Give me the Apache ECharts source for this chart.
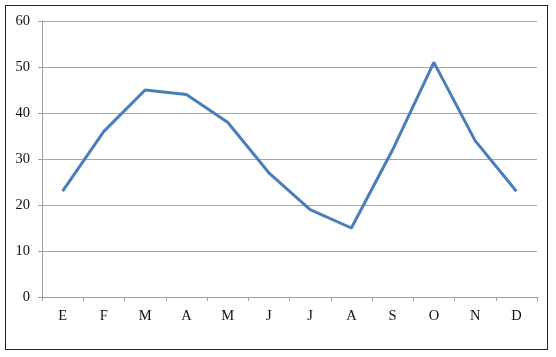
<!DOCTYPE html>
<html><head><meta charset="utf-8">
<script src="https://cdn.jsdelivr.net/npm/echarts@6/dist/echarts.min.js"></script>
<style>
html,body{margin:0;padding:0;background:#fff;}
#frame{position:absolute;left:5px;top:5px;width:541px;height:343px;border:1.5px solid #222;}
#c{position:absolute;left:0;top:0;width:556px;height:357px;}
</style></head>
<body>
<div id="frame"></div>
<div id="c"></div>
<script>
const categories = ['E','F','M','A','M','J','J','A','S','O','N','D'];
const values = [23, 36, 45, 44, 38, 27, 19, 15, 32, 51, 34, 23];
const yTicks = [0, 10, 20, 30, 40, 50, 60];

const chart = echarts.init(document.getElementById('c'));
chart.setOption({
  animation: false,
  grid: {left: 42, right: 19, top: 21, bottom: 60, containLabel: false},
  xAxis: {
    type: 'category',
    data: categories,
    boundaryGap: true,
    axisLine: {lineStyle: {color: '#a0a0a0', width: 1}},
    axisTick: {show: true, alignWithLabel: false, length: 4, lineStyle: {color: '#a0a0a0'}},
    axisLabel: {color: '#111', fontFamily: 'Liberation Serif', fontSize: 14.5, margin: 12},
    splitLine: {show: false}
  },
  yAxis: {
    type: 'value',
    min: yTicks[0], max: yTicks[yTicks.length - 1], interval: 10,
    axisLine: {show: true, lineStyle: {color: '#a0a0a0', width: 1}},
    axisTick: {show: true, length: 4, lineStyle: {color: '#a0a0a0'}},
    axisLabel: {color: '#111', fontFamily: 'Liberation Serif', fontSize: 14.5, margin: 12},
    splitLine: {show: true, lineStyle: {color: '#a6a6a6', width: 1}}
  },
  series: [{
    type: 'line',
    data: values,
    symbol: 'none',
    smooth: false,
    lineStyle: {color: '#4a7ebb', width: 3}
  }]
});
</script>
</body></html>
